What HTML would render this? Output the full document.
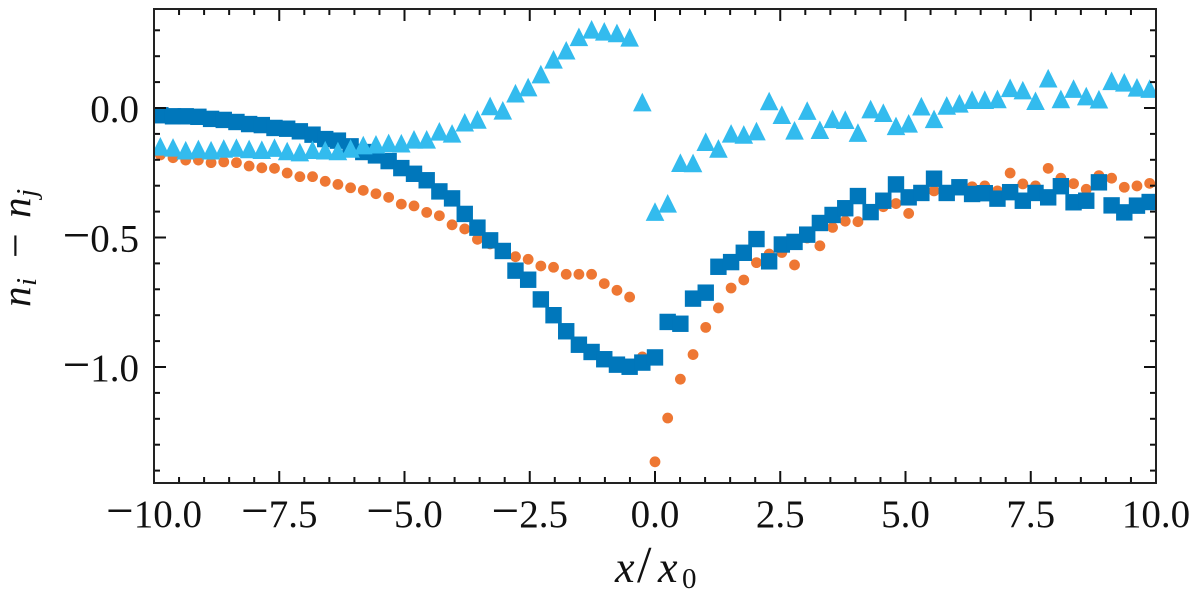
<!DOCTYPE html>
<html lang="en">
<head>
<meta charset="utf-8">
<title>Density difference chart</title>
<style>
  html, body { margin: 0; padding: 0; background: #fff; }
  body { width: 1200px; height: 597px; overflow: hidden; }
  svg { display: block; font-family: "Liberation Serif", serif; }
  text { fill: #111; }
</style>
</head>
<body>
<svg id="chart" xmlns="http://www.w3.org/2000/svg" width="1200" height="597" viewBox="0 0 1200 597">
  <defs>
    <clipPath id="plot-clip"><rect x="154" y="9" width="1002" height="474"></rect></clipPath>
  </defs>
  <rect x="0" y="0" width="1200" height="597" fill="#fff"></rect>
  <g id="series-layer" clip-path="url(#plot-clip)"></g>
  <g id="tick-layer"></g>
  <rect x="154" y="9" width="1002" height="474" fill="none" stroke="#222" stroke-width="2"></rect>
  <g id="label-layer"></g>
  <text y="582" font-size="44"><tspan x="615" font-style="italic">x</tspan><tspan x="637" font-size="52">/</tspan><tspan x="658" font-style="italic">x</tspan><tspan x="682" y="588" font-size="29">0</tspan></text>
  <text transform="translate(30 307) rotate(-90)" y="0" font-size="41"><tspan x="0" font-style="italic">n</tspan><tspan x="21" y="6" font-style="italic" font-size="29">i</tspan><tspan x="49" y="0" font-size="44">−</tspan><tspan x="89" y="0" font-style="italic">n</tspan><tspan x="110" y="6" font-style="italic" font-size="29">j</tspan></text>
</svg>
<script>
const orangeCircles = [-0.181,-0.192,-0.201,-0.201,-0.211,-0.208,-0.211,-0.224,-0.231,-0.233,
  -0.251,-0.265,-0.265,-0.283,-0.295,-0.308,-0.318,-0.331,-0.345,-0.371,
  -0.378,-0.403,-0.416,-0.451,-0.467,-0.507,-0.525,-0.548,-0.574,-0.584,
  -0.610,-0.615,-0.642,-0.642,-0.642,-0.678,-0.704,-0.730,-0.961,-1.366,
  -1.197,-1.047,-0.952,-0.847,-0.772,-0.695,-0.664,-0.597,-0.564,-0.558,
  -0.606,-0.502,-0.532,-0.461,-0.437,-0.439,-0.405,-0.381,-0.369,-0.407,
  -0.328,-0.320,-0.324,-0.297,-0.304,-0.301,-0.320,-0.251,-0.293,-0.301,
  -0.233,-0.271,-0.292,-0.314,-0.261,-0.271,-0.306,-0.301,-0.291];
const blueSquares = [-0.028,-0.032,-0.032,-0.034,-0.042,-0.046,-0.054,-0.062,-0.066,-0.077,
  -0.080,-0.090,-0.103,-0.120,-0.126,-0.148,-0.170,-0.183,-0.205,-0.232,
  -0.254,-0.279,-0.322,-0.349,-0.409,-0.462,-0.511,-0.552,-0.628,-0.663,
  -0.739,-0.800,-0.862,-0.914,-0.942,-0.970,-0.991,-0.999,-0.983,-0.963,
  -0.826,-0.833,-0.736,-0.713,-0.613,-0.595,-0.559,-0.506,-0.592,-0.527,
  -0.517,-0.489,-0.444,-0.413,-0.387,-0.340,-0.402,-0.358,-0.295,-0.345,
  -0.328,-0.273,-0.328,-0.306,-0.332,-0.329,-0.350,-0.325,-0.358,-0.328,
  -0.345,-0.302,-0.364,-0.358,-0.287,-0.376,-0.403,-0.377,-0.363];
const cyanTriangles = [-0.148,-0.152,-0.163,-0.158,-0.163,-0.156,-0.153,-0.158,-0.161,-0.153,
  -0.166,-0.170,-0.161,-0.163,-0.166,-0.156,-0.143,-0.140,-0.135,-0.136,
  -0.121,-0.121,-0.090,-0.098,-0.055,-0.044,0.008,-0.009,0.057,0.081,
  0.131,0.188,0.223,0.275,0.304,0.296,0.290,0.273,0.023,-0.400,
  -0.368,-0.211,-0.212,-0.130,-0.156,-0.098,-0.102,-0.089,0.027,-0.026,
  -0.086,-0.010,-0.084,-0.042,-0.045,-0.095,-0.004,-0.018,-0.069,-0.059,
  0.007,-0.042,0.010,0.018,0.032,0.032,0.035,0.078,0.069,0.028,
  0.115,0.035,0.075,0.046,0.034,0.105,0.099,0.080,0.075];
const xMajorTicks = [-10,-7.5,-5,-2.5,0,2.5,5,7.5,10];
const xTickLabels = ["10.0","7.5","5.0","2.5","0.0","2.5","5.0","7.5","10.0"];
const yMajorTicks = [0,-0.5,-1];
const yTickLabels = ["0.0","0.5","1.0"];

const SVG_NS = "http://www.w3.org/2000/svg";
const xMin = -10, xMax = 10;
const plotLeft = 154, plotRight = 1156, plotTop = 9, plotBottom = 483;
function xScale(v) { return plotLeft + (v - xMin) / (xMax - xMin) * (plotRight - plotLeft); }
function yScale(v) { return 108 - v * 259; }
function binCenter(i, n) { return xMin + (i + 0.5) * (xMax - xMin) / n; }
function make(tag) { return document.createElementNS(SVG_NS, tag); }

const seriesLayer = document.getElementById("series-layer");
const tickLayer = document.getElementById("tick-layer");
const labelLayer = document.getElementById("label-layer");

orangeCircles.forEach(function (v, i) {
  const c = make("circle");
  
  
  c.setAttribute("cx", xScale(binCenter(i, orangeCircles.length)));
  c.setAttribute("cy", yScale(v));
  c.setAttribute("r", 5.4);
  c.setAttribute("fill", "#EE7733");
  seriesLayer.appendChild(c);
});
blueSquares.forEach(function (v, i) {
  const s = make("rect");
  
  
  s.setAttribute("x", xScale(binCenter(i, blueSquares.length)) - 8.2);
  s.setAttribute("y", yScale(v) - 8.2);
  s.setAttribute("width", 16.4);
  s.setAttribute("height", 16.4);
  s.setAttribute("fill", "#0077BB");
  seriesLayer.appendChild(s);
});
cyanTriangles.forEach(function (v, i) {
  const t = make("polygon");
  
  
  const cx = xScale(binCenter(i, cyanTriangles.length));
  const cy = yScale(v);
  t.setAttribute("points", cx + "," + (cy - 9.3) + " " + (cx - 9.3) + "," + (cy + 9.3) + " " + (cx + 9.3) + "," + (cy + 9.3));
  t.setAttribute("fill", "#33BBEE");
  seriesLayer.appendChild(t);
});

function tickLine(x1, y1, x2, y2, major) {
  const l = make("line");
  
  
  l.setAttribute("x1", x1);
  l.setAttribute("y1", y1);
  l.setAttribute("x2", x2);
  l.setAttribute("y2", y2);
  l.setAttribute("stroke", "#111");
  l.setAttribute("stroke-width", 2);
  tickLayer.appendChild(l);
}
const majorLen = 12, minorLen = 6;
for (let k = -40; k <= 40; k += 2) {
  const v = k / 4;
  if (v < xMin || v > xMax) continue;
  const isMajor = k % 10 === 0;
  const len = isMajor ? majorLen : minorLen;
  tickLine(xScale(v), plotBottom, xScale(v), plotBottom - len, isMajor);
  tickLine(xScale(v), plotTop, xScale(v), plotTop + len, isMajor);
}
for (let k = -14; k <= 3; k++) {
  const isMajor = k % 5 === 0;
  const len = isMajor ? majorLen : minorLen;
  const y = yScale(k / 10);
  tickLine(plotLeft, y, plotLeft + len, y, isMajor);
  tickLine(plotRight, y, plotRight - len, y, isMajor);
}

function addMinus(textEl, negative) {
  if (!negative) return;
  const m = make("tspan");
  m.setAttribute("font-size", "49");
  m.textContent = "−";
  textEl.appendChild(m);
}
xMajorTicks.forEach(function (v, i) {
  const t = make("text");
  
  
  t.setAttribute("x", xScale(v));
  t.setAttribute("y", 527);
  t.setAttribute("text-anchor", "middle");
  t.setAttribute("font-size", "39");
  addMinus(t, v < 0);
  t.appendChild(document.createTextNode(xTickLabels[i]));
  labelLayer.appendChild(t);
});
yMajorTicks.forEach(function (v, i) {
  const t = make("text");
  
  
  t.setAttribute("x", 139);
  t.setAttribute("y", yScale(v) + 14);
  t.setAttribute("text-anchor", "end");
  t.setAttribute("font-size", "39");
  addMinus(t, v < 0);
  t.appendChild(document.createTextNode(yTickLabels[i]));
  labelLayer.appendChild(t);
});
</script>
</body>
</html>
